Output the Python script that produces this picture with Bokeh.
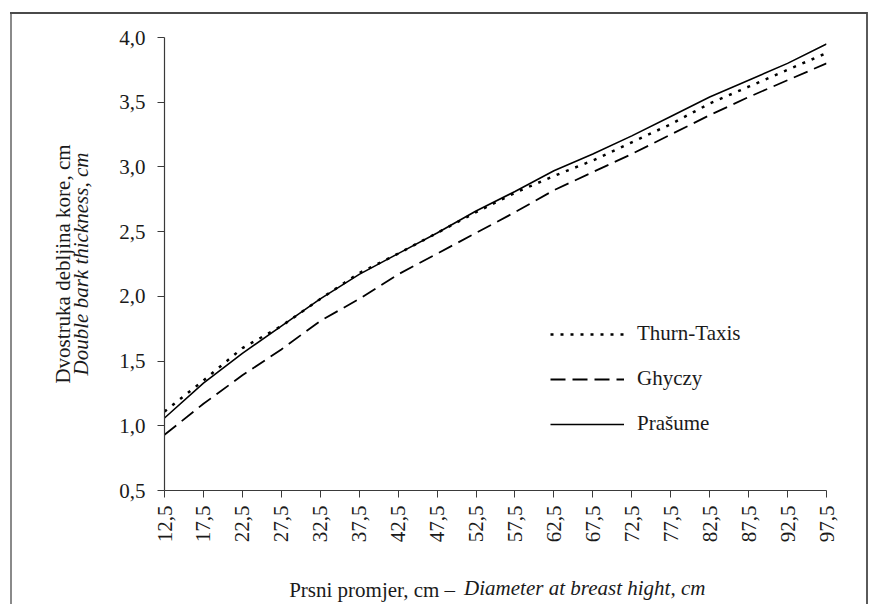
from math import pi
from bokeh.plotting import figure
from bokeh.models import (Legend, LegendItem, FixedTicker, Range1d, LinearAxis)
from bokeh.embed import file_html
from bokeh.resources import INLINE

# ---- data ----
dbh = [12.5, 17.5, 22.5, 27.5, 32.5, 37.5, 42.5, 47.5, 52.5,
       57.5, 62.5, 67.5, 72.5, 77.5, 82.5, 87.5, 92.5, 97.5]
thurn_taxis = [1.11, 1.35, 1.60, 1.77, 1.98, 2.18, 2.33, 2.49, 2.65,
               2.80, 2.93, 3.05, 3.19, 3.33, 3.49, 3.62, 3.75, 3.88]
ghyczy = [0.93, 1.17, 1.39, 1.59, 1.81, 1.98, 2.17, 2.33, 2.49,
          2.65, 2.82, 2.96, 3.10, 3.25, 3.40, 3.54, 3.67, 3.80]
prasume = [1.06, 1.33, 1.56, 1.77, 1.98, 2.17, 2.33, 2.49, 2.66,
           2.81, 2.97, 3.10, 3.24, 3.39, 3.54, 3.67, 3.80, 3.95]
x_tick_labels = ["12,5", "17,5", "22,5", "27,5", "32,5", "37,5", "42,5", "47,5", "52,5",
                 "57,5", "62,5", "67,5", "72,5", "77,5", "82,5", "87,5", "92,5", "97,5"]
y_ticks = [0.5, 1.0, 1.5, 2.0, 2.5, 3.0, 3.5, 4.0]
y_tick_labels = ["0,5", "1,0", "1,5", "2,0", "2,5", "3,0", "3,5", "4,0"]
x_title_local = "Prsni promjer, cm –"
x_title_english = "Diameter at breast hight, cm"

FONT = "Liberation Serif"
FS = "21px"
TXT = "#1a1a1a"
NBSP = "\u00a0"

p = figure(frame_width=662, frame_height=453,
           min_border_left=164, min_border_right=44,
           min_border_top=37, min_border_bottom=109,
           x_range=Range1d(12.5, 97.5), y_range=Range1d(0.5, 4.0),
           output_backend="svg", toolbar_location=None)
p.outline_line_color = None
p.xgrid.visible = False
p.ygrid.visible = False
p.background_fill_alpha = 0
p.border_fill_alpha = 0
# page frame around the chart, painted as CSS background lines behind the transparent canvas
p.styles = {
    "background-color": "white",
    "background-image": ("linear-gradient(#4a4a4a,#4a4a4a), "
                         "linear-gradient(#8a8a8a,#8a8a8a), "
                         "linear-gradient(#5a5a5a,#5a5a5a)"),
    "background-size": "857px 2px, 2px 600px, 2px 600px",
    "background-position": "10px 12px, 10px 12px, 866px 12px",
    "background-repeat": "no-repeat",
}

for ax in (p.xaxis[0], p.yaxis[0]):
    ax.axis_line_color = "#3a3a3a"
    ax.axis_line_width = 1.2
    ax.major_tick_line_color = "#3a3a3a"
    ax.major_tick_in = 0
    ax.major_tick_out = 7
    ax.minor_tick_line_color = None
    ax.major_label_text_font = FONT
    ax.major_label_text_font_size = FS
    ax.major_label_text_color = TXT

p.xaxis.ticker = FixedTicker(ticks=dbh)
p.xaxis.major_label_overrides = dict(zip(dbh, x_tick_labels))
p.xaxis.major_label_orientation = pi / 2
p.xaxis.major_label_standoff = 8
p.yaxis.ticker = FixedTicker(ticks=y_ticks)
p.yaxis.major_label_overrides = dict(zip(y_ticks, y_tick_labels))
p.yaxis.major_label_standoff = 12

# y axis title: inner line (italic) on the main axis, outer line on an extra axis
yax = p.yaxis[0]
yax.axis_label = "Double bark thickness, cm"
yax.axis_label_text_font = FONT
yax.axis_label_text_font_size = FS
yax.axis_label_text_font_style = "italic"
yax.axis_label_text_color = TXT
yax.axis_label_standoff = 23

yax2 = LinearAxis(ticker=FixedTicker(ticks=[]), axis_line_color=None,
                  major_tick_line_color=None, minor_tick_line_color=None,
                  axis_label="Dvostruka debljina kore, cm",
                  axis_label_text_font=FONT, axis_label_text_font_size=FS,
                  axis_label_text_font_style="normal", axis_label_text_color=TXT,
                  axis_label_standoff=-8)
p.add_layout(yax2, "left")

# x axis title on one line: normal part + italic part, each on a label-only axis,
# padded with non-breaking spaces so that the two centred labels sit side by side
xa = LinearAxis(ticker=FixedTicker(ticks=[]),
                axis_line_color=None, major_tick_line_color=None,
                minor_tick_line_color=None,
                axis_label=x_title_local + NBSP * 47,
                axis_label_text_font=FONT, axis_label_text_font_size=FS,
                axis_label_text_font_style="normal", axis_label_text_color=TXT,
                axis_label_standoff=32)
p.add_layout(xa, "below")
xb = LinearAxis(ticker=FixedTicker(ticks=[]),
                axis_line_color=None, major_tick_line_color=None,
                minor_tick_line_color=None,
                axis_label=NBSP * 34 + x_title_english,
                axis_label_text_font=FONT, axis_label_text_font_size=FS,
                axis_label_text_font_style="italic", axis_label_text_color=TXT,
                axis_label_standoff=-29)
p.add_layout(xb, "below")

r_tt = p.line(dbh, thurn_taxis, line_color="black", line_width=2.5, line_dash="3 7")
r_gh = p.line(dbh, ghyczy, line_color="black", line_width=1.8, line_dash="15 7")
r_pr = p.line(dbh, prasume, line_color="black", line_width=1.6)

legend = Legend(items=[LegendItem(label="Thurn-Taxis", renderers=[r_tt]),
                       LegendItem(label="Ghyczy", renderers=[r_gh]),
                       LegendItem(label="Prašume", renderers=[r_pr])],
                location=(386, 54), orientation="vertical",
                glyph_width=74, glyph_height=22, label_height=22,
                label_standoff=13, spacing=20, padding=0, margin=0,
                border_line_color=None, background_fill_alpha=0,
                label_text_font=FONT, label_text_font_size=FS,
                label_text_color=TXT)
p.add_layout(legend)

open("out.html", "w").write(file_html(p, INLINE))
